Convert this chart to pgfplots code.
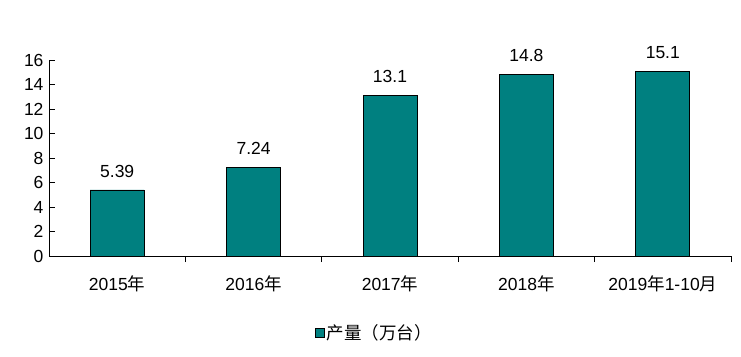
\documentclass[border=0pt]{standalone}
\usepackage{pgfplots}
\pgfplotsset{compat=1.18}
\usepackage{fontspec}
\setmainfont{Liberation Sans}
\newfontfamily\cjk{Noto Sans CJK SC}
\definecolor{barteal}{HTML}{008080}
\begin{document}
\begin{tikzpicture}[x=1pt,y=1pt]
\begin{axis}[
  at={(49pt,100pt)}, anchor=south west,
  scale only axis, width=682pt, height=196pt,
  font=\fontsize{17.5}{20}\selectfont,
  /pgf/number format/assume math mode=true,
  axis lines*=left,
  axis line style={black, line width=0.9pt},
  xmin=-0.5, xmax=4.5, ymin=0, ymax=16,
  ytick={0,2,...,16},
  xtick={0,1,2,3,4},
  xticklabels={{2015{\cjk 年}},{2016{\cjk 年}},{2017{\cjk 年}},{2018{\cjk 年}},{2019{\cjk 年}1-10{\cjk 月}}},
  minor xtick={0.5,1.5,2.5,3.5,4.5},
  tick align=inside,
  major tick length=6pt,
  minor tick length=6pt,
  x tick style={draw=none},
  minor x tick style={draw=black, line width=0.9pt},
  y tick style={black, line width=0.9pt},
  xticklabel style={yshift=-10pt},
  yticklabel style={xshift=-2pt},
  ybar, bar width=54pt,
  nodes near coords,
  every node near coord/.append style={font=\fontsize{17.5}{20}\selectfont, yshift=9pt},
  legend style={at={(0.477,-0.393)}, anchor=center, draw=none, font=\fontsize{17.5}{20}\selectfont},
  legend image code/.code={\draw[fill=barteal, draw=black, line width=0.8pt] (0pt,-4.5pt) rectangle (9pt,4.5pt);},
]
\addplot[fill=barteal, draw=black, line width=0.8pt] coordinates {(0,5.39) (1,7.24) (2,13.1) (3,14.8) (4,15.1)};
\addlegendentry{{\cjk 产量（万台）}}
\end{axis}
\pgfresetboundingbox
\path[use as bounding box] (0,0) rectangle (741,356);
\end{tikzpicture}
\end{document}
